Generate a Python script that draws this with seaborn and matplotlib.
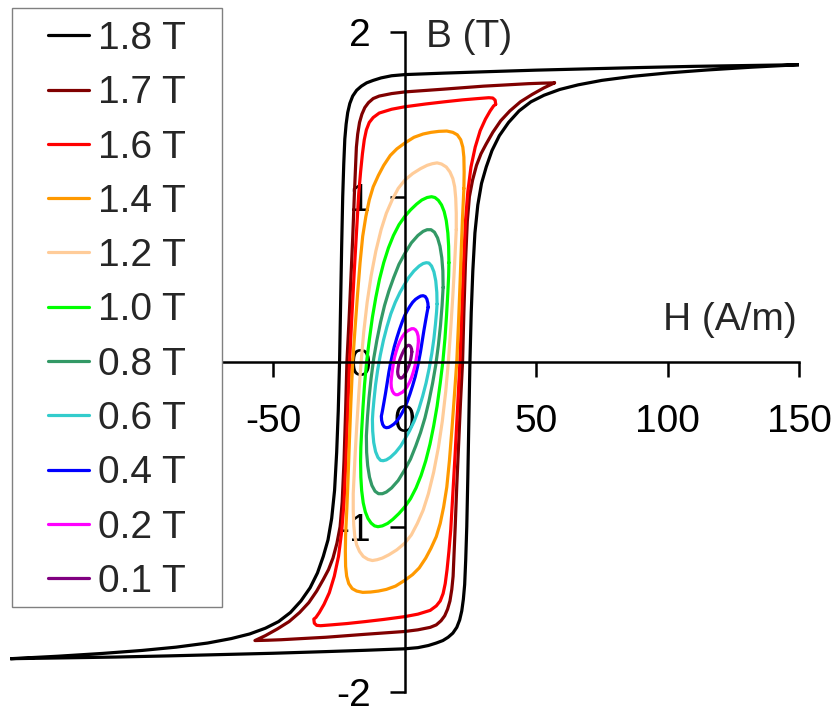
import numpy as np
import pandas as pd
import matplotlib
matplotlib.use("Agg")
import matplotlib.pyplot as plt
import seaborn as sns
from matplotlib.patches import Rectangle

# peak flux density of each loop, legend order
peaks = ["1.8 T", "1.7 T", "1.6 T", "1.4 T", "1.2 T", "1.0 T",
         "0.8 T", "0.6 T", "0.4 T", "0.2 T", "0.1 T"]
colors = ["#000000", "#800000", "#ff0000", "#ff9900", "#ffcc99", "#00ff00",
          "#339966", "#33cccc", "#0000ff", "#ff00ff", "#800080"]

# upper (descending) branch of each loop, H in A/m, B in T;
# the ascending branch is the point mirror of it (B(-H) = -B(H))
h_18 = [150, 130, 110, 90, 70, 50, 30, 15, 0, -5, -9, -12, -14.5, -16.5, -18.3, -19.8,
        -20.9, -21.7, -22.3, -22.8, -23.2, -23.6, -24.0, -24.4, -24.8, -25.3, -25.9, -26.7,
        -27.8, -29.2, -31, -33.2, -36, -39.5, -43.5, -48, -53, -59, -66, -75, -87, -100,
        -115, -132, -150]
b_18 = [1.80, 1.795, 1.79, 1.783, 1.775, 1.767, 1.757, 1.749, 1.74, 1.733, 1.72, 1.705,
        1.69, 1.67, 1.645, 1.61, 1.565, 1.51, 1.44, 1.35, 1.2, 1.0, 0.7, 0.35, 0.0, -0.3,
        -0.55, -0.78, -0.95, -1.08, -1.18, -1.28, -1.37, -1.45, -1.52, -1.575, -1.615,
        -1.65, -1.678, -1.705, -1.73, -1.75, -1.768, -1.785, -1.80]

h_17 = [57, 52, 47, 38, 30, 15, 0, -5, -9.7, -12, -13.8, -15.2, -16.3, -17.2, -17.9, -18.4,
        -18.8, -19.2, -19.8, -20.5, -21.2, -22, -22.5, -23.1, -23.8, -24.6, -25.8, -27.3,
        -29, -31, -33.5, -36.5, -40, -44, -48.5, -53, -57]
b_17 = [1.69, 1.688, 1.685, 1.677, 1.67, 1.652, 1.635, 1.625, 1.61, 1.595, 1.57, 1.54, 1.5,
        1.45, 1.38, 1.3, 1.15, 1.0, 0.75, 0.5, 0.25, 0.0, -0.3, -0.6, -0.85, -1.0, -1.1,
        -1.19, -1.26, -1.32, -1.39, -1.46, -1.52, -1.575, -1.62, -1.66, -1.69]

h_16 = [34.6, 34.4, 33.5, 32, 28, 22, 15, 8, 0, -5, -9.7, -12, -13.5, -14.6, -15.4, -16.1,
        -16.8, -17.5, -18.3, -19.2, -20.1, -21, -21.7, -22.4, -23.1, -24, -25.2, -26.8,
        -28.7, -30.7, -32.5, -33.8, -34.6]
b_16 = [1.56, 1.585, 1.598, 1.6, 1.595, 1.587, 1.575, 1.562, 1.545, 1.53, 1.507, 1.48, 1.45,
        1.405, 1.345, 1.26, 1.15, 1.02, 0.8, 0.55, 0.28, 0.0, -0.3, -0.6, -0.85, -1.03,
        -1.18, -1.3, -1.4, -1.47, -1.52, -1.55, -1.56]

h_14 = [22.5, 22.6, 22.5, 22.1, 21.3, 20.0, 18.3, 16, 13, 10, 7, 3.5, 0, -3, -5.5, -8, -10,
        -12, -13.5, -14.8, -16, -17, -18, -19, -19.8, -20.5, -21.1, -21.6, -22.0, -22.3,
        -22.5]
b_14 = [1.05, 1.15, 1.24, 1.3, 1.345, 1.375, 1.39, 1.398, 1.396, 1.39, 1.38, 1.36, 1.325,
        1.29, 1.25, 1.19, 1.13, 1.06, 0.98, 0.88, 0.76, 0.6, 0.4, 0.18, 0.0, -0.25, -0.5,
        -0.72, -0.88, -0.98, -1.05]

h_12 = [19.6, 19.6, 19.4, 19.0, 18.3, 17.2, 15.8, 14, 12.3, 10.5, 8.5, 6, 3, 0, -2.5, -4.8,
        -7, -9, -11, -12.8, -14.3, -15.6, -16.6, -17.5, -18.3, -18.9, -19.3, -19.6]
b_12 = [0.8, 0.9, 0.99, 1.06, 1.11, 1.15, 1.18, 1.198, 1.205, 1.2, 1.19, 1.17, 1.14, 1.1,
        1.05, 0.98, 0.9, 0.8, 0.67, 0.52, 0.36, 0.18, 0.0, -0.2, -0.4, -0.57, -0.7, -0.8]

h_10 = [16.8, 16.7, 16.4, 15.8, 15, 14, 12.8, 11.5, 10.2, 8.5, 6.5, 4.5, 2.2, 0, -2.2,
        -4.3, -6.2, -8, -9.6, -11, -12.3, -13.5, -14.5, -15.3, -15.9, -16.4, -16.7, -16.8]
b_10 = [0.6, 0.7, 0.78, 0.855, 0.91, 0.95, 0.978, 0.995, 1.0, 0.995, 0.98, 0.955, 0.92,
        0.88, 0.83, 0.765, 0.69, 0.6, 0.5, 0.39, 0.27, 0.13, 0.0, -0.14, -0.28, -0.42,
        -0.52, -0.6]

h_08 = [14.6, 14.5, 14.1, 13.4, 12.5, 11.3, 10, 8.5, 7, 5, 2.5, 0, -2.2, -4.2, -6, -7.7,
        -9.2, -10.6, -11.8, -12.8, -13.6, -14.2, -14.6]
b_08 = [0.45, 0.55, 0.63, 0.7, 0.75, 0.785, 0.8, 0.8, 0.79, 0.765, 0.72, 0.655, 0.59,
        0.51, 0.43, 0.34, 0.24, 0.13, 0.02, -0.1, -0.22, -0.34, -0.45]

h_06 = [12.3, 12.2, 11.8, 11.1, 10.2, 9.2, 8.2, 7, 5.5, 3.5, 1.5, 0, -1.8, -3.6, -5.3,
        -6.8, -8.1, -9.3, -10.3, -11.1, -11.7, -12.1, -12.3]
b_06 = [0.35, 0.42, 0.49, 0.545, 0.58, 0.598, 0.6, 0.595, 0.58, 0.55, 0.51, 0.47, 0.42,
        0.36, 0.29, 0.21, 0.13, 0.04, -0.05, -0.14, -0.23, -0.3, -0.35]

h_04 = [8.9, 8.8, 8.4, 7.8, 7, 6.1, 5.2, 4.1, 3, 2, 1, 0, -1, -2, -3, -4, -4.8, -5.4, -6,
        -6.7, -7.3, -7.9, -8.4, -8.7, -8.9]
b_04 = [0.33, 0.355, 0.38, 0.395, 0.40, 0.398, 0.39, 0.378, 0.36, 0.337, 0.31, 0.28, 0.24,
        0.195, 0.145, 0.09, 0.035, -0.01, -0.06, -0.13, -0.19, -0.245, -0.29, -0.315, -0.33]

h_02 = [5.2, 5.1, 4.7, 4.1, 3.4, 2.6, 1.8, 0.9, 0, -0.9, -1.8, -2.6, -3.3, -3.9, -4.3,
        -4.7, -5.0, -5.15, -5.2]
b_02 = [0.13, 0.155, 0.178, 0.193, 0.2, 0.2, 0.193, 0.185, 0.172, 0.152, 0.125, 0.095,
        0.06, 0.025, -0.01, -0.05, -0.09, -0.115, -0.13]

h_01 = [2.7, 2.6, 2.3, 1.9, 1.4, 0.9, 0.3, -0.3, -0.9, -1.5, -2.0, -2.35, -2.6, -2.7]
b_01 = [0.06, 0.077, 0.09, 0.098, 0.1, 0.096, 0.085, 0.07, 0.05, 0.028, 0.005, -0.02,
        -0.045, -0.06]

branches = [(h_18, b_18), (h_17, b_17), (h_16, b_16), (h_14, b_14), (h_12, b_12),
            (h_10, b_10), (h_08, b_08), (h_06, b_06), (h_04, b_04), (h_02, b_02),
            (h_01, b_01)]

frames = []
for name, (h, b) in zip(peaks, branches):
    h = np.asarray(h, float)
    b = np.asarray(b, float)
    # descending branch, then the mirrored ascending branch closes the loop
    hh = np.concatenate([h, -h[1:]])
    bb = np.concatenate([b, -b[1:]])
    frames.append(pd.DataFrame({"H": hh, "B": bb, "loop": name}))
df = pd.concat(frames, ignore_index=True)

sns.set_style("ticks")
plt.rcParams["font.family"] = ["Liberation Sans", "DejaVu Sans"]
plt.rcParams["axes.unicode_minus"] = False

fig = plt.figure(figsize=(8.37, 7.10), dpi=100)
ax = fig.add_axes([0.01254, 0.02577, 0.94205, 0.92958])

sns.lineplot(data=df, x="H", y="B", hue="loop", hue_order=peaks,
             palette=dict(zip(peaks, colors)), sort=False, estimator=None,
             units="loop", linewidth=2.3, ax=ax, legend=True)
for line in ax.get_lines():
    line.set_solid_joinstyle("round")

ax.set_xlim(-150, 150)
ax.set_ylim(-2, 2)
ax.set_xlabel("")
ax.set_ylabel("")

for side in ["top", "right"]:
    ax.spines[side].set_visible(False)
ax.spines["left"].set_position(("data", 0))
ax.spines["bottom"].set_position(("data", 0))
ax.spines["bottom"].set_bounds(-140, 150)
for side in ["left", "bottom"]:
    ax.spines[side].set_linewidth(1.8)
    ax.spines[side].set_color("black")

ax.set_xticks([-50, 0, 50, 100, 150])
ax.set_yticks([-2, -1, 0, 1, 2])
ax.tick_params(axis="x", direction="out", length=10.5, width=1.8, pad=20,
               labelsize=28, colors="black")
ax.tick_params(axis="y", direction="out", length=10.5, width=1.8, pad=14,
               labelsize=28, colors="black")

ax.text(8.1, 1.91, "B (T)", fontsize=28, ha="left", va="baseline", clip_on=False)
ax.text(149, 0.194, "H (A/m)", fontsize=28, ha="right", va="baseline", clip_on=False)

handles, labels = ax.get_legend_handles_labels()
ax.legend(handles, labels, loc="upper left", frameon=False, fontsize=28,
          handlelength=1.04, handletextpad=0.23, labelspacing=0.47,
          borderpad=0.0, borderaxespad=0.0,
          bbox_to_anchor=(48.3 / 837, 1 - 21 / 710), bbox_transform=fig.transFigure)
for line in ax.get_legend().get_lines():
    line.set_linewidth(2.3)
ax.get_legend().set_zorder(6)

# white legend box with grey edge that hides the left part of the H axis
box = Rectangle((11.7 / 837, 1 - 607 / 710), (222 - 11.7) / 837, (607 - 8) / 710,
                transform=fig.transFigure, facecolor="white", edgecolor="#808080",
                linewidth=1.0, zorder=5, clip_on=False)
ax.add_patch(box)

fig.savefig("out.png", dpi=100)
